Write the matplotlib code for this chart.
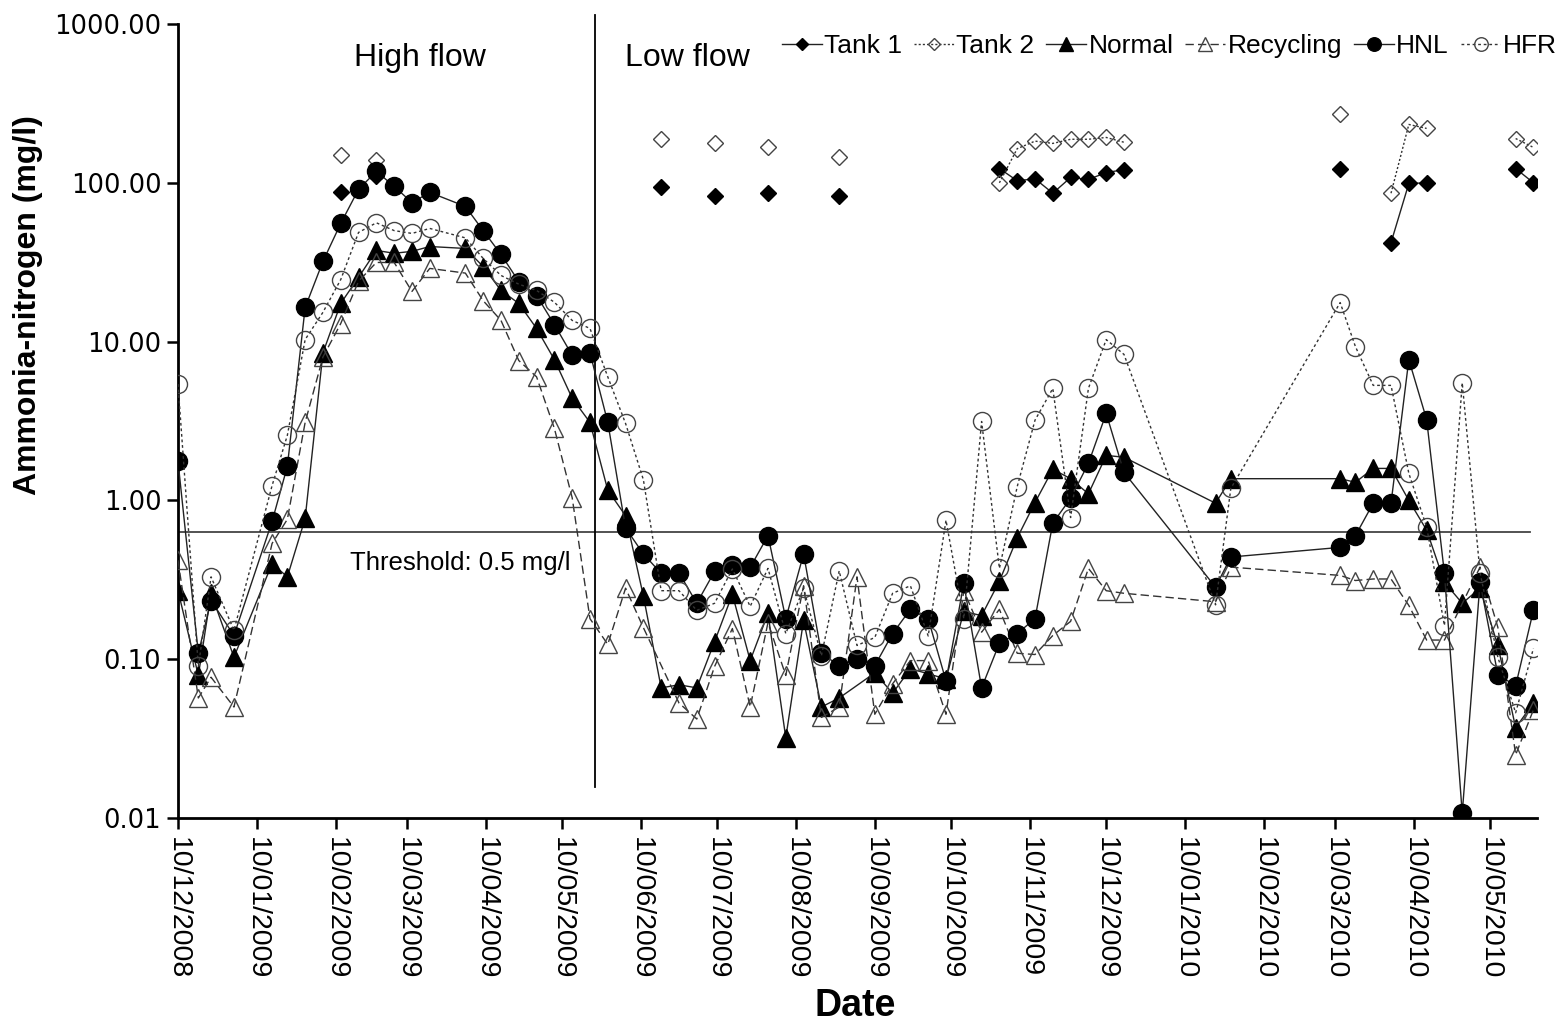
import numpy as np
import matplotlib
matplotlib.use('Agg')
import matplotlib.pyplot as plt
import matplotlib.dates as mdates
import matplotlib.ticker as mticker
import pandas as pd

nan = np.nan

dates = ['2008-12-10', '2008-12-18', '2008-12-23', '2009-01-01', '2009-01-16', '2009-01-22',
         '2009-01-29', '2009-02-05', '2009-02-12', '2009-02-19', '2009-02-26', '2009-03-05',
         '2009-03-12', '2009-03-19', '2009-04-02', '2009-04-09', '2009-04-16', '2009-04-23',
         '2009-04-30', '2009-05-07', '2009-05-14', '2009-05-21', '2009-05-28', '2009-06-04',
         '2009-06-11', '2009-06-18', '2009-06-25', '2009-07-02', '2009-07-09', '2009-07-16',
         '2009-07-23', '2009-07-30', '2009-08-06', '2009-08-13', '2009-08-20', '2009-08-27',
         '2009-09-03', '2009-09-10', '2009-09-17', '2009-09-24', '2009-10-01', '2009-10-08',
         '2009-10-15', '2009-10-22', '2009-10-29', '2009-11-05', '2009-11-12', '2009-11-19',
         '2009-11-26', '2009-12-03', '2009-12-10', '2009-12-17', '2010-01-22', '2010-01-28',
         '2010-03-12', '2010-03-18', '2010-03-25', '2010-04-01', '2010-04-08', '2010-04-15',
         '2010-04-22', '2010-04-29', '2010-05-06', '2010-05-13', '2010-05-20', '2010-05-27']

tank1 = [nan, nan, nan, nan, nan, nan, nan, nan, 87, nan,
         110, nan, nan, nan, nan, nan, nan, nan, nan, nan,
         nan, nan, nan, nan, nan, 93.5, nan, nan, 83, nan,
         nan, 86, nan, nan, nan, 83, nan, nan, nan, nan,
         nan, nan, nan, nan, 123, 103, 106, 86, 108, 105,
         116, 121, nan, nan, 123, nan, nan, 42, 99, 100,
         nan, nan, nan, nan, 123, 100]

tank2 = [nan, nan, nan, nan, nan, nan, nan, nan, 150, nan,
         140, nan, nan, nan, nan, nan, nan, nan, nan, nan,
         nan, nan, nan, nan, nan, 188, nan, nan, 177, nan,
         nan, 167, nan, nan, nan, 145, nan, nan, nan, nan,
         nan, nan, nan, nan, 100, 164, 183, 177, 188, 188,
         193, 180, nan, nan, 273, nan, nan, 86, 233, 220,
         nan, nan, nan, nan, 190, 167]

normal = [0.27, 0.079, 0.26, 0.103, 0.40, 0.33, 0.77, 8.5, 17.4, 25.4,
          37.5, 36, 37, 39.7, 38.6, 29.7, 21, 17.4, 12.1, 7.7,
          4.4, 3.1, 1.16, 0.80, 0.25, 0.066, 0.069, 0.066, 0.129, 0.256,
          0.098, 0.194, 0.032, 0.176, 0.050, 0.057, nan, 0.082, 0.061, 0.087,
          0.081, 0.075, 0.20, 0.188, 0.31, 0.58, 0.97, 1.57, 1.37, 1.10,
          1.92, 1.87, 0.96, 1.37, 1.37, 1.30, 1.59, 1.59, 1.00, 0.65,
          0.305, 0.225, 0.28, 0.122, 0.037, 0.053]

recycling = [0.42, 0.057, 0.077, 0.050, 0.536, 0.76, 3.1, 8.0, 13, 24,
             31.5, 31.5, 20.7, 28.9, 27, 18.1, 13.6, 7.6, 6.0, 2.84,
             1.04, 0.18, 0.124, 0.28, 0.158, nan, 0.053, 0.042, 0.090, 0.156,
             0.050, 0.17, 0.079, 0.29, 0.043, 0.050, 0.33, 0.045, 0.070, 0.098,
             0.098, 0.045, 0.27, 0.148, 0.206, 0.109, 0.107, 0.141, 0.173, 0.373,
             0.27, 0.26, 0.23, 0.38, 0.337, 0.313, 0.32, 0.32, 0.218, 0.132,
             0.132, nan, 0.38, 0.159, 0.025, 0.048]

hnl = [1.76, 0.109, 0.234, 0.141, 0.737, 1.64, 16.4, 32, 55.5, 91,
       118, 95, 75, 87, 71, 50, 35.4, 23.9, 19.5, 12.8,
       8.2, 8.5, 3.1, 0.67, 0.46, 0.347, 0.35, 0.225, 0.357, 0.39,
       0.378, 0.60, 0.18, 0.46, 0.109, 0.091, 0.10, 0.091, 0.145, 0.206,
       0.18, 0.073, 0.30, 0.066, 0.126, 0.145, 0.18, 0.72, 1.03, 1.71,
       3.53, 1.5, 0.284, 0.44, 0.506, 0.60, 0.96, 0.96, 7.7, 3.23,
       0.347, 0.0107, 0.305, 0.08, 0.068, 0.203]

hfr = [5.4, 0.090, 0.33, 0.152, 1.24, 2.57, 10.3, 15.3, 24.6, 48.7,
       56, 50, 48, 51.6, 45, 33.4, 26.1, 23, 21, 17.7,
       13.6, 12.1, 6.0, 3.05, 1.35, 0.27, 0.27, 0.203, 0.225, 0.37,
       0.215, 0.373, 0.145, 0.28, 0.105, 0.36, 0.122, 0.137, 0.26, 0.29,
       0.14, 0.75, 0.18, 3.14, 0.373, 1.22, 3.2, 5.07, 0.78, 5.07,
       10.3, 8.3, 0.22, 1.19, 17.6, 9.3, 5.3, 5.3, 1.48, 0.68,
       0.163, 5.5, 0.35, 0.103, 0.046, 0.117]

series_labels = ['Tank 1', 'Tank 2', 'Normal', 'Recycling', 'HNL', 'HFR']
tick_dates = ['2008-12-10', '2009-01-10', '2009-02-10', '2009-03-10', '2009-04-10',
              '2009-05-10', '2009-06-10', '2009-07-10', '2009-08-10', '2009-09-10',
              '2009-10-10', '2009-11-10', '2009-12-10', '2010-01-10', '2010-02-10',
              '2010-03-10', '2010-04-10', '2010-05-10']
y_ticks = [0.01, 0.1, 1, 10, 100, 1000]
threshold = 0.63
flow_change_date = '2009-05-23'

plt.rcParams['font.family'] = ['Liberation Sans', 'DejaVu Sans']

W, H = 1562, 1029
fig = plt.figure(figsize=(W / 100, H / 100), dpi=100)
ax = fig.add_axes([178 / W, 1 - 818 / H, (1537 - 178) / W, (818 - 24) / H])

x = pd.to_datetime(dates)

styles = [
    dict(ls='-', marker='D', ms=8.5, mfc='black', mec='black', color='#222222', lw=1.0),
    dict(ls=(0, (1.5, 1.5)), marker='D', ms=8.5, mfc='none', mec='#444444', mew=1.0, color='#333333', lw=1.0),
    dict(ls='-', marker='^', ms=12.5, mfc='black', mec='black', color='#222222', lw=1.0),
    dict(ls=(0, (6, 3)), marker='^', ms=13, mfc='none', mec='#444444', mew=1.0, color='#333333', lw=1.0),
    dict(ls='-', marker='o', ms=13, mfc='black', mec='black', color='#222222', lw=1.0),
    dict(ls=(0, (2, 2)), marker='o', ms=13, mfc='none', mec='#444444', mew=1.0, color='#333333', lw=1.0),
]
data = [tank1, tank2, normal, recycling, hnl, hfr]
handles = []
for i, (vals, st, lab) in enumerate(zip(data, styles, series_labels)):
    v = np.array(vals, dtype=float)
    if i >= 2:
        m = ~np.isnan(v)
        xx, vv = x[m], v[m]
    else:
        xx, vv = x, v
    h, = ax.plot(xx, vv, label=lab, zorder=3 + i, **st)
    handles.append(h)

ax.set_yscale('log')
ax.set_ylim(0.01, 1000)
ax.set_yticks(y_ticks)
ax.yaxis.set_major_formatter(mticker.FuncFormatter(lambda v, p: f'{v:.2f}'))
ax.yaxis.set_minor_locator(mticker.NullLocator())
for lbl in ax.get_yticklabels():
    lbl.set_fontfamily('DejaVu Sans')
    lbl.set_fontsize(18.5)

t0 = pd.Timestamp('2008-12-10')
ax.set_xlim(mdates.date2num(t0), mdates.date2num(t0 + pd.Timedelta(days=534.4)))
ax.set_xticks(pd.to_datetime(tick_dates))
ax.xaxis.set_major_formatter(mdates.DateFormatter('%d/%m/%Y'))
plt.setp(ax.get_xticklabels(), rotation=270, fontsize=20.5, ha='center', va='top')

ax.tick_params(axis='both', direction='out', length=8, width=1.8, color='black')
ax.tick_params(axis='y', pad=4)
ax.tick_params(axis='x', pad=6)
for s in ['top', 'right']:
    ax.spines[s].set_visible(False)
for s in ['left', 'bottom']:
    ax.spines[s].set_linewidth(2)

# threshold and flow-period divider
ax.axhline(threshold, xmin=0, xmax=0.995, color='#444444', lw=1.3, zorder=2)
ax.axvline(pd.Timestamp(flow_change_date), ymin=0.039, ymax=1.011, color='black', lw=1.3,
           clip_on=False, zorder=2)

fig.text(350 / W, 1 - 563 / H, 'Threshold: 0.5 mg/l', fontsize=18.5, ha='left', va='center')
fig.text(420 / W, 1 - 58 / H, 'High flow', fontsize=23, ha='center', va='center')
fig.text(687 / W, 1 - 58 / H, 'Low flow', fontsize=23, ha='center', va='center')

fig.text(28 / W, 1 - 305 / H, 'Ammonia-nitrogen (mg/l)', fontsize=23, fontweight='bold',
         rotation=90, ha='center', va='center')
fig.text(855 / W, 1 - 1006 / H, 'Date', fontsize=27, fontweight='bold', ha='center', va='center')

leg = ax.legend(handles, series_labels, ncol=6, loc='upper right',
                bbox_to_anchor=(1557 / W, 1 - 34 / H), bbox_transform=fig.transFigure,
                frameon=False, fontsize=19, handlelength=1.5, handletextpad=0.1,
                columnspacing=0.45, markerscale=0.75, borderpad=0, borderaxespad=0)

fig.savefig('out.png', dpi=100)
